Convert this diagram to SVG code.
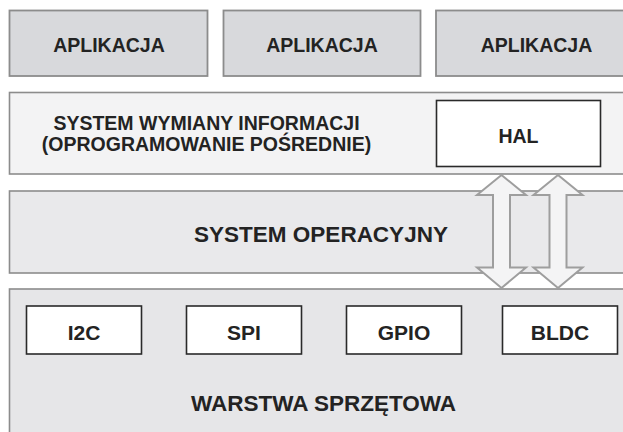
<svg xmlns="http://www.w3.org/2000/svg" width="623" height="432" viewBox="0 0 623 432">
  <style>
    .app { fill: #d8d9dc; stroke: #8c8c8c; stroke-width: 1.8; }
    .mid { fill: #f3f3f4; stroke: #8c8c8c; stroke-width: 1.6; }
    .os { fill: #e9e9eb; stroke: #8c8c8c; stroke-width: 1.6; }
    .hw { fill: #e6e6e8; stroke: #8c8c8c; stroke-width: 1.6; }
    .box { fill: #ffffff; stroke: #2a2a2a; stroke-width: 1.6; }
    .arrow { fill: #f4f4f5; stroke: #9e9e9e; stroke-width: 2; stroke-linejoin: miter; }
    text { font-family: "Liberation Sans", Arial, sans-serif; font-weight: bold; fill: #232323; text-anchor: middle; }
    .t19 { font-size: 19.5px; }
    .t21 { font-size: 21px; }
    .t22 { font-size: 22.5px; }
  </style>
  <rect width="623" height="432" fill="#ffffff"/>

  <!-- application layer -->
  <g id="app1">
    <rect class="app" x="9.5" y="10.5" width="198" height="65.5"/>
    <text class="t19" x="109" y="51.5">APLIKACJA</text>
  </g>
  <g id="app2">
    <rect class="app" x="223.5" y="10.5" width="197" height="65.5"/>
    <text class="t19" x="322" y="51.5">APLIKACJA</text>
  </g>
  <g id="app3">
    <rect class="app" x="436" y="10.5" width="200" height="65.5"/>
    <text class="t19" x="536.5" y="51.5">APLIKACJA</text>
  </g>

  <!-- middleware layer -->
  <g id="middleware">
    <rect class="mid" x="9.5" y="92.5" width="630" height="81.5"/>
    <text class="t19" x="206.5" y="130">SYSTEM WYMIANY INFORMACJI</text>
    <text class="t19" x="206.5" y="150.5">(OPROGRAMOWANIE POŚREDNIE)</text>
  </g>
  <g id="hal">
    <rect class="box" x="436.5" y="100.5" width="164" height="66"/>
    <text class="t19" x="518.5" y="142.5">HAL</text>
  </g>

  <!-- operating system layer -->
  <g id="os">
    <rect class="os" x="9.5" y="191" width="630" height="82"/>
    <text class="t22" x="321" y="242">SYSTEM OPERACYJNY</text>
  </g>

  <!-- hardware layer -->
  <g id="hardware">
    <rect class="hw" x="9.5" y="289" width="630" height="160"/>
    <text class="t22" x="323.5" y="411">WARSTWA SPRZĘTOWA</text>
  </g>
  <g id="i2c">
    <rect class="box" x="26.5" y="306" width="115" height="48"/>
    <text class="t21" x="84" y="340">I2C</text>
  </g>
  <g id="spi">
    <rect class="box" x="186.5" y="306" width="115" height="48"/>
    <text class="t21" x="244" y="340">SPI</text>
  </g>
  <g id="gpio">
    <rect class="box" x="346.5" y="306" width="115" height="48"/>
    <text class="t21" x="404" y="340">GPIO</text>
  </g>
  <g id="bldc">
    <rect class="box" x="502.5" y="306" width="115" height="48"/>
    <text class="t21" x="560" y="340">BLDC</text>
  </g>

  <!-- double-headed links between HAL and hardware -->
  <g id="connectors">
    <polygon class="arrow" points="501.5,175 526,195 510,195 510,267.5 526,267.5 501.5,288 477,267.5 493,267.5 493,195 477,195"/>
    <polygon class="arrow" points="558,175 582.5,195 566.5,195 566.5,267.5 582.5,267.5 558,288 533.5,267.5 549.5,267.5 549.5,195 533.5,195"/>
  </g>
</svg>
